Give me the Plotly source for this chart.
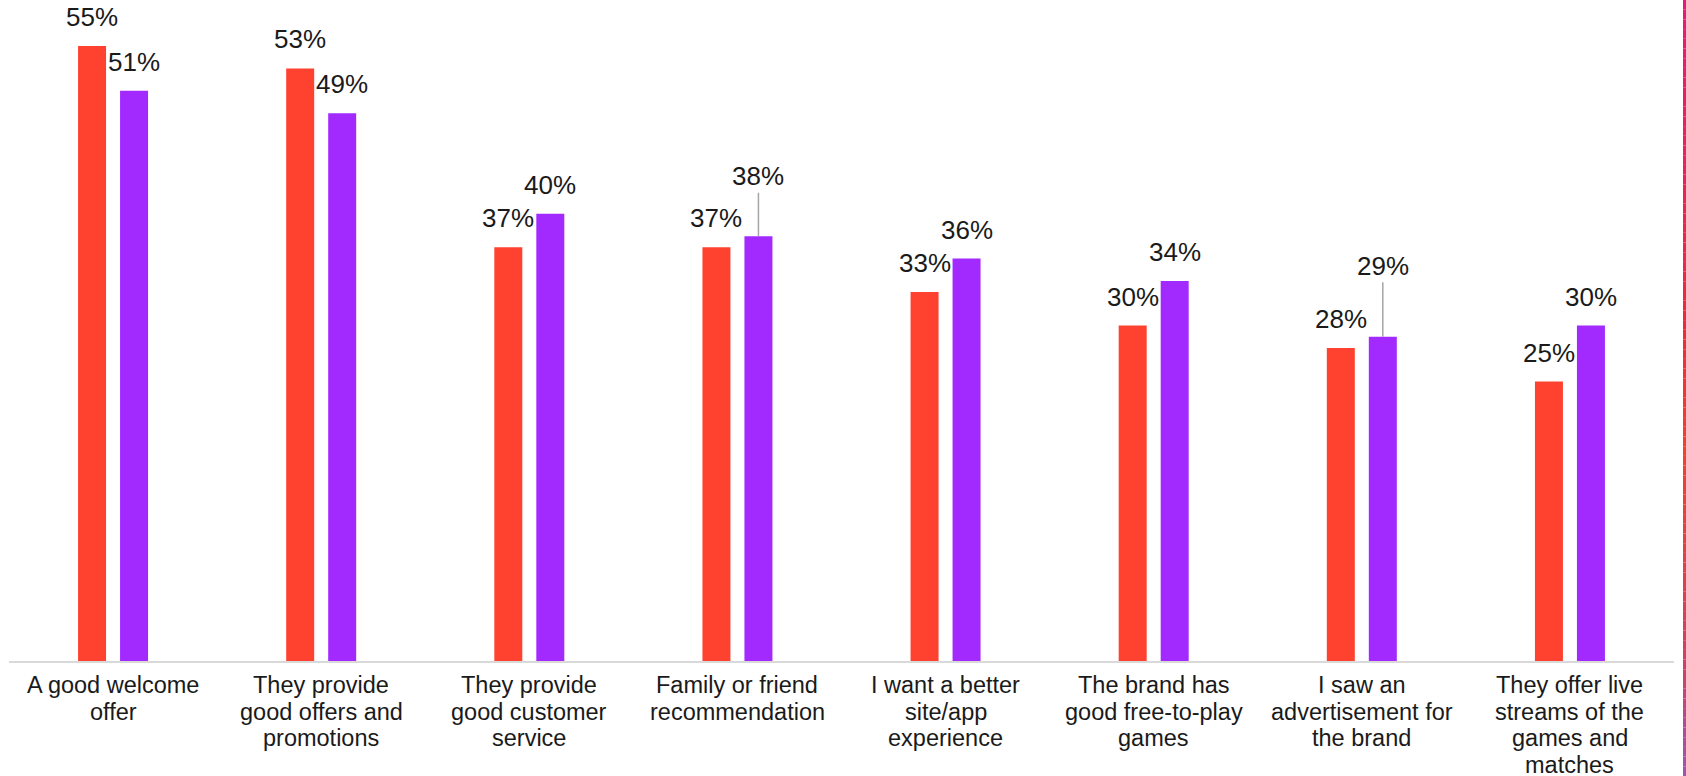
import plotly.graph_objects as go

# Survey reasons, two respondent groups (percent)
categories = [
    "A good welcome<br>offer",
    "They provide<br>good offers and<br>promotions",
    "They provide<br>good customer<br>service",
    "Family or friend<br>recommendation",
    "I want a better<br>site/app<br>experience",
    "The brand has<br>good free-to-play<br>games",
    "I saw an<br>advertisement for<br>the brand",
    "They offer live<br>streams of the<br>games and<br>matches",
]
series_red = [55, 53, 37, 37, 33, 30, 28, 25]
series_purple = [51, 49, 40, 38, 36, 34, 29, 30]

RED = "#FF4230"
PURPLE = "#A22AFF"
TEXT = "#1A1A1A"
FONT = "Liberation Sans"

W, H = 1686, 776
ML, MR, MT, MB = 9, 12, 0, 115
plot_h = H - MT - MB
PX_PER_PCT = 11.18
group_px = (W - ML - MR) / len(categories)

bar_w = 28 / group_px
red_off = -35 / group_px
purple_off = 7 / group_px
red_center = red_off + bar_w / 2
purple_center = purple_off + bar_w / 2

xs = list(range(len(categories)))

fig = go.Figure()
fig.add_trace(go.Bar(x=xs, y=series_red, marker=dict(color=RED, line=dict(width=0)),
                     width=bar_w, offset=red_off, hoverinfo="skip"))
fig.add_trace(go.Bar(x=xs, y=series_purple, marker=dict(color=PURPLE, line=dict(width=0)),
                     width=bar_w, offset=purple_off, hoverinfo="skip"))

annotations = []
# labels lifted above the bar with a short leader line (purple series): index -> lift in px
leader_lift = {3: -60, 6: -71}

def value_label(i, v, center, lift=None):
    if lift is not None:
        return dict(x=i + center, y=v, xref="x", yref="y", text=f"{v}%",
                    showarrow=True, arrowhead=0, arrowwidth=1.5, arrowcolor="#A6A6A6",
                    ax=0, ay=lift, standoff=0,
                    font=dict(family=FONT, size=26, color=TEXT))
    return dict(x=i + center, y=v, xref="x", yref="y", text=f"{v}%",
                showarrow=False, yanchor="bottom", yshift=12,
                font=dict(family=FONT, size=26, color=TEXT))

for i, v in enumerate(series_red):
    annotations.append(value_label(i, v, red_center))
for i, v in enumerate(series_purple):
    annotations.append(value_label(i, v, purple_center, leader_lift.get(i)))

# category labels, one line each for tight line spacing
LINE_PITCH = 26.5
for i, cat in enumerate(categories):
    for j, line in enumerate(cat.split("<br>")):
        annotations.append(dict(x=i, y=0, xref="x", yref="y", text=line,
                                showarrow=False, yanchor="top",
                                yshift=-9 - j * LINE_PITCH,
                                font=dict(family=FONT, size=23.5, color=TEXT)))

# decorative gradient strip along the right edge
stops = [(0.0, (232, 25, 122)), (0.42, (238, 42, 58)), (0.58, (240, 68, 40)),
         (0.84, (212, 62, 96)), (1.0, (156, 85, 180))]

def mix(t):
    for (t0, c0), (t1, c1) in zip(stops[:-1], stops[1:]):
        if t0 <= t <= t1:
            f = (t - t0) / (t1 - t0)
            return "rgb(%d,%d,%d)" % tuple(round(a + (b - a) * f) for a, b in zip(c0, c1))
    return "rgb(%d,%d,%d)" % stops[-1][1]

shapes = []
pw = W - ML - MR
x0 = (1683 - ML) / pw
x1 = (1686 - ML) / pw
n = 80
for k in range(n):
    top_px = H * k / n
    bot_px = H * (k + 1) / n
    shapes.append(dict(type="rect", xref="paper", yref="paper",
                       x0=x0, x1=x1,
                       y0=(MT + plot_h - bot_px) / plot_h,
                       y1=(MT + plot_h - top_px) / plot_h,
                       fillcolor=mix((k + 0.5) / n), line=dict(width=0), layer="above"))

fig.update_layout(
    width=W, height=H,
    margin=dict(l=ML, r=MR, t=MT, b=MB),
    paper_bgcolor="white", plot_bgcolor="white",
    barmode="overlay", showlegend=False,
    annotations=annotations, shapes=shapes,
    xaxis=dict(range=[-0.5, len(categories) - 0.5], showticklabels=False, ticks="",
               showgrid=False, zeroline=False, showline=True, linecolor="#D9D9D9", linewidth=2),
    yaxis=dict(range=[0, plot_h / PX_PER_PCT], visible=False),
)

fig.write_html("out.html")
